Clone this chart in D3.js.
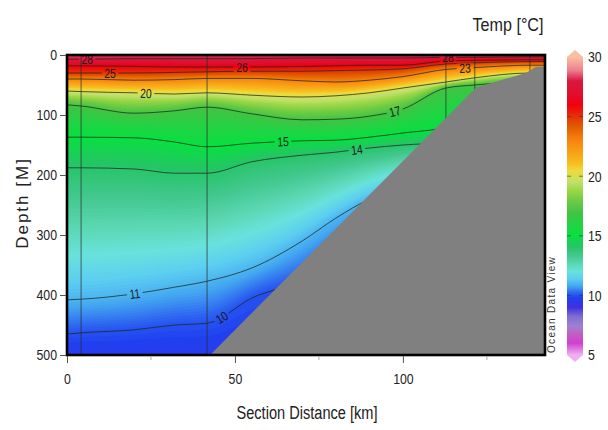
<!DOCTYPE html>
<html><head><meta charset="utf-8">
<script src="https://cdn.jsdelivr.net/npm/d3@7"></script>
<style>
body{margin:0;background:#fff;}
svg{display:block;}
text{font-family:'Liberation Sans Narrow','Arial Narrow','Liberation Sans',Arial,sans-serif;}
</style></head><body>
<svg id="chart" width="608" height="430"></svg>
<script>
// ---------------- DATA ----------------
// distances (km) at which isotherm depths were read
const knotKm   = [0, 4.2, 20, 32, 41.7, 55, 70, 80, 90, 100, 112.8, 121.4, 137.8, 142.3];
// isotherm depths (m) at those distances
const iso28 = [7, 7, 6, 6, 6, 6, 5, 5, 5, 5, 4, 4, 3, 3];
const iso26 = [18, 18, 19, 20, 20, 20, 19, 18, 17, 17, 10, 9, 8, 8];
const iso25 = [30, 30, 30, 29, 28, 27, 27, 26, 25, 23, 15, 13, 11, 11];
const iso23 = [40, 40, 42, 41, 39, 39, 43, 45, 42, 36, 24, 21, 17, 17];
const iso20 = [60, 61, 63, 65, 63, 67, 70, 68, 63, 55, 45, 38, 30, 30];
const iso17 = [83, 85, 97, 93, 87, 98, 108, 107, 102, 90, 55, 50, 45, 45];
const iso15 = [137, 137, 138, 145, 153, 147, 143, 142, 137, 130, 120, 100, 80, 80];
const iso14 = [188, 188, 190, 197, 197, 178, 167, 162, 155, 150, 145, 130, 110, 110];
const iso11 = [408, 407, 398, 387, 377, 355, 310, 272, 240, 217, 200, 180, 150, 150];
const iso10 = [465, 463, 458, 450, 447, 405, 375, 340, 310, 280, 250, 220, 180, 180];
const contourLevels = [28, 26, 25, 23, 20, 17, 15, 14, 11, 10];
const surfaceTemp = 28.3;
const bottomTemp = 9.6;
// CTD station positions (km)
const castKm = [4.2, 41.7, 112.8, 121.4, 137.8];
// bottom profile
const bathyKm = [42.6, 121.8, 136.6, 139.5, 142.3];
const bathyDepth = [500, 54, 30, 20, 19];
// contour label positions
const labelLevel = [28, 28, 25, 26, 20, 17, 15, 14, 23, 11, 10];
const labelKm    = [6, 113.4, 12.8, 52.1, 23.5, 97.6, 64.3, 86.3, 118.5, 20.2, 46.1];
// ticks
const xTicks = [0, 50, 100];
const xMinorTicks = [25, 75, 125];
const yTicks = [0, 100, 200, 300, 400, 500];
const cbTicks = [5, 10, 15, 20, 25, 30];
// ODV-like palette
const paletteT = [5, 6, 6.8, 7.4, 8.2, 9, 9.8, 10.2, 10.8, 11.4, 12, 12.6, 13.3, 14.1, 15, 15.9, 16.9, 18, 18.9, 19.5, 20, 20.5, 21, 21.9, 23, 24.2, 25, 26, 27, 28, 28.9, 30];
const paletteC = ['#f0b0f0','#d040d0','#c060c0','#a080d0','#8070d0','#4030e0','#2040f0','#2c64f0','#44a8f0','#5ccef0','#68e2dc','#5cd8b4','#44c890','#26c466','#08e040','#20d444','#40c444','#70cc44','#a0d848','#c0e070','#d8e048','#f0d840','#f8c020','#f8a418','#f88410','#e05a00','#e83008','#f00010','#e01030','#d81840','#ee8090','#f8c0a0'];

// ---------------- LAYOUT ----------------
const W = 608, H = 430;
const L = 67, R = 545, T = 55, B = 355;
const x = d3.scaleLinear().domain([0, 142.3]).range([L, R]);
const y = d3.scaleLinear().domain([0, 500]).range([T, B]);
const color = d3.scaleLinear().domain(paletteT).range(paletteC).interpolate(d3.interpolateRgb).clamp(true);

function narrow(sel, k) {
  sel.each(function () {
    const w = this.getComputedTextLength();
    d3.select(this).attr('textLength', w * k).attr('lengthAdjust', 'spacingAndGlyphs');
  });
}

const svg = d3.select('#chart');
const defs = svg.append('defs');
defs.append('clipPath').attr('id', 'plotclip')
  .append('rect').attr('x', L).attr('y', T).attr('width', R - L).attr('height', B - T);

const plot = svg.append('g').attr('clip-path', 'url(#plotclip)');

// ---------- colour field as stacked bands ----------
const isoByLevel = {28: iso28, 26: iso26, 25: iso25, 23: iso23, 20: iso20, 17: iso17, 15: iso15, 14: iso14, 11: iso11, 10: iso10};
const stack = [{t: surfaceTemp, d: knotKm.map(() => 0)}]
  .concat(contourLevels.map(t => ({t, d: isoByLevel[t]})))
  .concat([{t: bottomTemp, d: knotKm.map(() => 500)}]);

const area = d3.area()
  .x((d, i) => x(knotKm[i]))
  .y0(B + 5)
  .y1(d => y(d))
  .curve(d3.curveMonotoneX);

const bandG = plot.append('g');
for (let i = 0; i < stack.length - 1; i++) {
  const A = stack[i], Bn = stack[i + 1];
  const n = Math.max(1, Math.round((A.t - Bn.t) / 0.08));
  for (let j = 0; j < n; j++) {
    const f = j / n;
    const t = A.t - f * (A.t - Bn.t);
    const dep = A.d.map((a, k) => a + f * (Bn.d[k] - a));
    const tc = t - (A.t - Bn.t) / n / 2;
    bandG.append('path').attr('d', area(dep)).attr('fill', color(tc));
  }
}

// ---------- contour lines ----------
const line = d3.line().x((d, i) => x(knotKm[i])).y(d => y(d)).curve(d3.curveMonotoneX);
const mask = defs.append('mask').attr('id', 'lblmask').attr('maskUnits', 'userSpaceOnUse')
  .attr('x', 0).attr('y', 0).attr('width', W).attr('height', H);
mask.append('rect').attr('x', 0).attr('y', 0).attr('width', W).attr('height', H).attr('fill', 'white');

const lineG = plot.append('g').attr('mask', 'url(#lblmask)');
const paths = {};
contourLevels.forEach(t => {
  paths[t] = lineG.append('path').attr('d', line(isoByLevel[t]))
    .attr('fill', 'none').attr('stroke', '#1e2a1e').attr('stroke-width', 0.9).attr('stroke-opacity', 0.85).node();
});

function pointAtX(node, px) {
  const len = node.getTotalLength();
  let lo = 0, hi = len;
  for (let i = 0; i < 40; i++) {
    const mid = (lo + hi) / 2;
    if (node.getPointAtLength(mid).x < px) lo = mid; else hi = mid;
  }
  const l = (lo + hi) / 2;
  const p = node.getPointAtLength(l);
  const p1 = node.getPointAtLength(Math.max(0, l - 5));
  const p2 = node.getPointAtLength(Math.min(len, l + 5));
  return {x: p.x, y: p.y, ang: Math.atan2(p2.y - p1.y, p2.x - p1.x) * 180 / Math.PI};
}

const labelG = plot.append('g');
labelLevel.forEach((lev, i) => {
  const p = pointAtX(paths[lev], x(labelKm[i]));
  const tx = labelG.append('text')
    .attr('transform', `translate(${p.x},${p.y}) rotate(${p.ang})`)
    .attr('text-anchor', 'middle').attr('dy', '0.36em')
    .attr('font-size', 13).attr('fill', '#1a1a1a').text(lev);
  narrow(tx, 0.8);
  const w = +tx.attr('textLength') + 5;
  mask.append('rect').attr('x', -w / 2).attr('y', -5).attr('width', w).attr('height', 10)
    .attr('transform', `translate(${p.x},${p.y}) rotate(${p.ang})`).attr('fill', 'black');
});

// ---------- station lines ----------
plot.append('g').selectAll('line').data(castKm).join('line')
  .attr('x1', d => x(d)).attr('x2', d => x(d)).attr('y1', T).attr('y2', B)
  .attr('stroke', '#2a2a2a').attr('stroke-width', 1).attr('stroke-opacity', 0.7);

// ---------- bathymetry ----------
const bathyArea = d3.area().x(d => x(d[0])).y0(B + 5).y1(d => y(d[1]));
plot.append('path').attr('d', bathyArea(bathyKm.map((k, i) => [k, bathyDepth[i]]).concat([[150, bathyDepth[bathyDepth.length - 1]]])))
  .attr('fill', '#808080');

// ---------- frame ----------
svg.append('rect').attr('x', L).attr('y', T).attr('width', R - L).attr('height', B - T)
  .attr('fill', 'none').attr('stroke', '#000').attr('stroke-width', 2.6);

// ---------- axes ----------
const xAxis = svg.append('g').attr('transform', `translate(0,${B + 1})`)
  .call(d3.axisBottom(x).tickValues(xTicks).tickSize(7).tickPadding(10));
const yAxis = svg.append('g').attr('transform', `translate(${L - 1},0)`)
  .call(d3.axisLeft(y).tickValues(yTicks).tickSize(6).tickPadding(3));
[xAxis, yAxis].forEach(a => {
  a.select('.domain').remove();
  a.selectAll('.tick line').attr('stroke', '#555');
  a.selectAll('.tick text').attr('font-size', 15).attr('fill', '#222')
    .attr('font-family', "'Liberation Sans Narrow','Arial Narrow','Liberation Sans',Arial,sans-serif");
  narrow(a.selectAll('.tick text'), 0.82);
});
svg.append('g').selectAll('line').data(xMinorTicks).join('line')
  .attr('x1', d => x(d)).attr('x2', d => x(d)).attr('y1', B + 1).attr('y2', B + 5)
  .attr('stroke', '#aaa');

// axis titles
svg.append('text').attr('x', 307).attr('y', 419).attr('text-anchor', 'middle')
  .attr('font-size', 18).attr('fill', '#222').attr('textLength', 141).attr('lengthAdjust', 'spacingAndGlyphs')
  .text('Section Distance [km]');
svg.append('text').attr('transform', 'translate(28,203) rotate(-90)').attr('text-anchor', 'middle')
  .attr('font-size', 17).attr('letter-spacing', 2).attr('fill', '#222')
  .style('font-family', "'Liberation Sans',Arial,sans-serif").text('Depth [M]');
svg.append('text').attr('x', 508).attr('y', 31).attr('text-anchor', 'middle')
  .attr('font-size', 18).attr('fill', '#222').attr('textLength', 71).attr('lengthAdjust', 'spacingAndGlyphs')
  .text('Temp [°C]');

// ---------- colour bar ----------
const cb = d3.scaleLinear().domain([5, 30]).range([355, 57]);
const cbX = 567, cbW = 16;
const grad = defs.append('linearGradient').attr('id', 'cbgrad')
  .attr('x1', 0).attr('y1', 1).attr('x2', 0).attr('y2', 0);
paletteT.forEach((t, i) => grad.append('stop').attr('offset', (t - 5) / 25).attr('stop-color', paletteC[i]));
svg.append('rect').attr('x', cbX).attr('y', cb(30)).attr('width', cbW).attr('height', cb(5) - cb(30))
  .attr('fill', 'url(#cbgrad)');
svg.append('path').attr('d', `M${cbX},${cb(30)}L${cbX + cbW / 2},${cb(30) - 7}L${cbX + cbW},${cb(30)}Z`).attr('fill', color(30));
svg.append('path').attr('d', `M${cbX},${cb(5)}L${cbX + cbW / 2},${cb(5) + 7}L${cbX + cbW},${cb(5)}Z`).attr('fill', color(5));
const cbG = svg.append('g');
cbG.selectAll('line.l').data(cbTicks.slice(1, -1)).join('line').attr('class', 'l')
  .attr('x1', cbX).attr('x2', cbX + 4).attr('y1', d => cb(d)).attr('y2', d => cb(d))
  .attr('stroke', '#333').attr('stroke-opacity', 0.6);
cbG.selectAll('line.r').data(cbTicks.slice(1, -1)).join('line').attr('class', 'r')
  .attr('x1', cbX + cbW - 4).attr('x2', cbX + cbW).attr('y1', d => cb(d)).attr('y2', d => cb(d))
  .attr('stroke', '#333').attr('stroke-opacity', 0.6);
const cbLabels = cbG.selectAll('text').data(cbTicks).join('text')
  .attr('x', 588).attr('y', d => cb(d)).attr('dy', '0.36em')
  .attr('font-size', 15).attr('fill', '#222').text(d => d);
narrow(cbLabels, 0.82);

// watermark
svg.append('text').attr('transform', 'translate(555,353) rotate(-90)')
  .attr('font-size', 10).attr('letter-spacing', 1.3).attr('fill', '#333')
  .style('font-family', "'Liberation Sans',Arial,sans-serif").text('Ocean Data View');
</script>
</body></html>
